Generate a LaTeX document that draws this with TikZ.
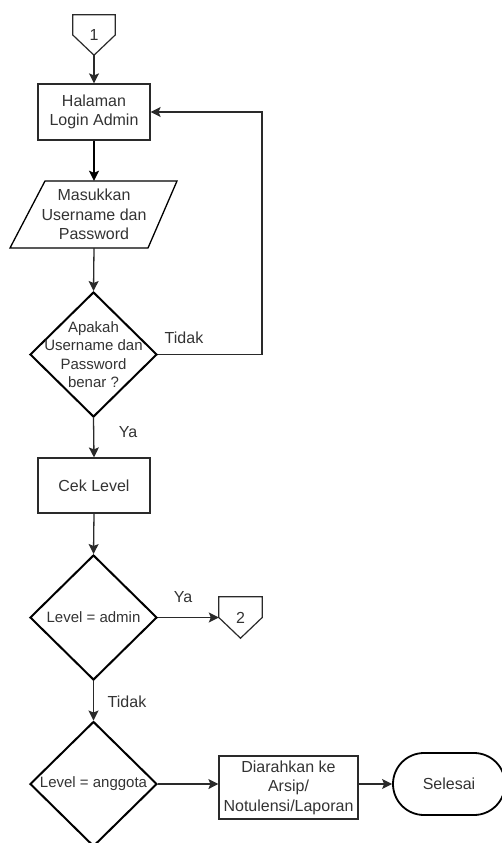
\documentclass[tikz,border=0pt]{standalone}
\usepackage{fontspec}
\setmainfont{Liberation Sans}
\usetikzlibrary{shapes.geometric,arrows.meta}
\definecolor{txtc}{HTML}{333333}
\definecolor{lnc}{HTML}{2A2A2A}
\begin{document}
\begin{tikzpicture}[x=1pt,y=-1pt,
  every node/.style={font=\fontsize{16}{19.5}\selectfont, text=txtc},
  procbox/.style={draw=lnc, line width=1.2pt, minimum width=112pt, minimum height=56pt, align=center, inner sep=0pt},
  iobox/.style={minimum width=100pt, minimum height=67pt, align=center, inner sep=0pt},
  decision/.style={diamond, draw=black, line width=2pt, minimum width=127pt, minimum height=125pt, inner sep=0pt},
  dtext/.style={font=\fontsize{15}{18.5}\selectfont, align=center, inner sep=0pt},
  offpage/.style={minimum width=42pt, minimum height=40pt, inner sep=0pt},
  offline/.style={draw=lnc, line width=1.2pt},
  term/.style={draw=black, line width=1.8pt, rounded corners=31pt, minimum width=112pt, minimum height=62pt, inner sep=0pt},
  arr/.style={draw=lnc, line width=1.3pt, -{Stealth[length=10pt,width=10pt,inset=2pt]}},
  lbl/.style={font=\fontsize{16}{19}\selectfont, inner sep=0pt}
]
\useasboundingbox (0,0) rectangle (502,843);

% off-page connector 1
\node[offpage] (c1) at (94,35) {1};
\draw[offline] (c1.north west) -- (c1.north east) -- (c1.east) -- (c1.south) -- (c1.west) -- cycle;

% login page
\node[procbox] (login) at (94,112) {Halaman\\Login Admin};

% input parallelogram
\node[iobox] (input) at (94,214.5) {Masukkan\\Username dan\\Password};
\draw[black, line width=1.3pt] (45,181) -- (177,181) -- (148,248) -- (10,248) -- cycle;

% decision 1
\node[decision] (d1) at (93.5,354.5) {};
\node[dtext] at (d1.center) {Apakah\\Username dan\\Password\\benar ?};

% cek level
\node[procbox, minimum height=55pt] (cek) at (94,485.5) {Cek Level};

% decision 2
\node[decision] (d2) at (93.5,617.5) {};
\node[dtext] at (d2.center) {Level = admin};

% off-page connector 2
\node[offpage, minimum width=43pt, minimum height=41pt] (c2) at (240.5,617.5) {2};
\draw[offline] (c2.north west) -- (c2.north east) -- (c2.east) -- (c2.south) -- (c2.west) -- cycle;

% decision 3
\node[decision] (d3) at (93.5,784) {};
\node[dtext] at (d3.center) {Level = anggota};

% redirect box
\node[procbox, minimum width=139pt, minimum height=63pt] (arah) at (288.5,787.5) {Diarahkan ke\\Arsip/\\Notulensi/Laporan};

% terminal
\node[term] (selesai) at (449,784) {Selesai};

% connectors
\coordinate (loopc) at (262,112);
\draw[arr] (c1.south) -- (login.north);
\draw[arr, draw=black, line width=2pt] (login.south) -- (input.north);
\draw[arr] (input.south) -- (d1.north);
\draw[arr] (d1.east) -| (loopc) -- (login.east);
\node[lbl] at (184,338) {Tidak};
\draw[arr] (d1.south) -- (cek.north);
\node[lbl] at (128,432) {Ya};
\draw[arr] (cek.south) -- (d2.north);
\draw[arr] (d2.east) -- (c2.west);
\node[lbl] at (183,597) {Ya};
\draw[arr] (d2.south) -- (d3.north);
\node[lbl] at (127,702) {Tidak};
\draw[arr] (d3.east) -- (d3.east -| arah.west);
\draw[arr] (arah.east |- selesai.west) -- (selesai.west);
\end{tikzpicture}
\end{document}
